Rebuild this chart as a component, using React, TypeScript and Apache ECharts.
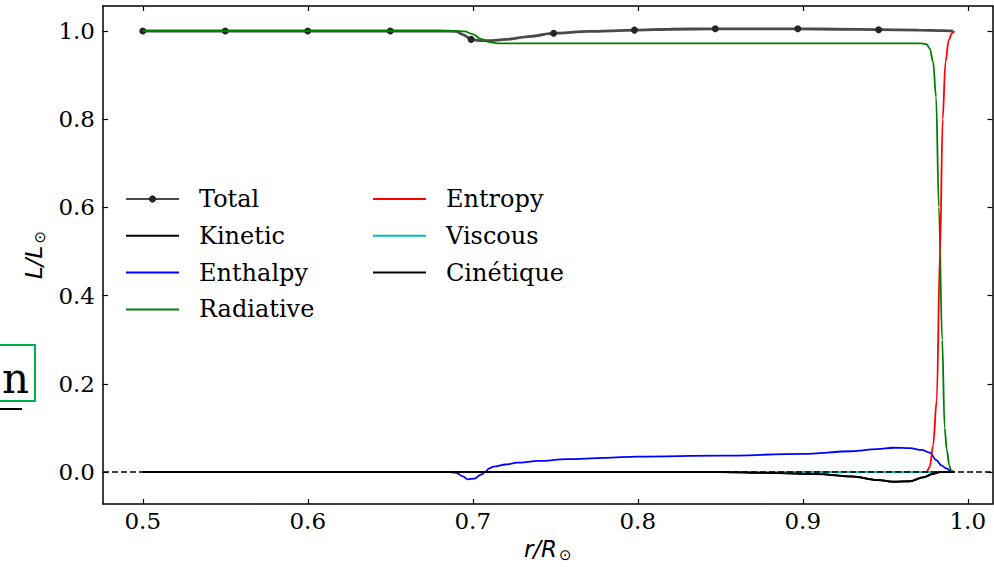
import React, { useEffect, useRef } from "react";
import * as echarts from "echarts";

// ---- data ----
const rTicks = [0.5, 0.6, 0.7, 0.8, 0.9, 1.0];
const lTicks = [0.0, 0.2, 0.4, 0.6, 0.8, 1.0];

const totalR = [0.5, 0.55, 0.6, 0.65, 0.68, 0.69, 0.694, 0.699, 0.705, 0.71, 0.72, 0.735, 0.749, 0.77, 0.798, 0.82, 0.847, 0.87, 0.897, 0.92, 0.946, 0.97, 0.985, 0.991];
const totalL = [1.0, 1.0, 1.0, 1.0, 1.0, 0.999, 0.992, 0.981, 0.978, 0.978, 0.981, 0.988, 0.995, 0.999, 1.002, 1.004, 1.005, 1.005, 1.005, 1.004, 1.003, 1.002, 1.001, 1.0];
const totalMarkerR = [0.5, 0.55, 0.6, 0.65, 0.699, 0.749, 0.798, 0.847, 0.897, 0.946];

const kineticR = [0.5, 0.85, 0.88, 0.908, 0.93, 0.945, 0.955, 0.965, 0.973, 0.979, 0.983, 0.991];
const kineticL = [0.0, 0.0, -0.002, -0.0045, -0.01, -0.018, -0.022, -0.021, -0.012, -0.004, 0.0, 0.0];

const enthalpyR = [0.5, 0.685, 0.69, 0.694, 0.697, 0.701, 0.705, 0.7075, 0.71, 0.7125, 0.72, 0.727, 0.74, 0.757, 0.78, 0.8, 0.85, 0.9, 0.93, 0.945, 0.955, 0.965, 0.972, 0.977, 0.981, 0.984, 0.987, 0.99, 0.992];
const enthalpyL = [0.0, 0.0, -0.002, -0.01, -0.0166, -0.015, -0.006, 0.0, 0.008, 0.012, 0.017, 0.021, 0.025, 0.029, 0.032, 0.035, 0.037, 0.041, 0.047, 0.052, 0.055, 0.054, 0.05, 0.044, 0.027, 0.015, 0.008, 0.002, 0.0];

const radiativeR = [0.5, 0.69, 0.695, 0.7, 0.705, 0.71, 0.715, 0.972, 0.975, 0.977, 0.979, 0.9808, 0.9825, 0.9845, 0.986, 0.9873, 0.9888, 0.99, 0.992];
const radiativeL = [1.0, 1.0, 0.999, 0.993, 0.982, 0.975, 0.972, 0.972, 0.97, 0.96, 0.93, 0.85, 0.6, 0.3, 0.1, 0.05, 0.015, 0.002, 0.0];

const entropyR = [0.5, 0.975, 0.977, 0.979, 0.9812, 0.9832, 0.9848, 0.9865, 0.9885, 0.9905, 0.992];
const entropyL = [0.0, 0.0, 0.012, 0.06, 0.163, 0.5, 0.8, 0.93, 0.98, 0.995, 1.0];

const viscousR = [0.5, 0.991];
const viscousL = [0.0, 0.0];

const cinetiqueR = [0.5, 0.85, 0.88, 0.908, 0.93, 0.945, 0.955, 0.965, 0.973, 0.979, 0.983, 0.991];
const cinetiqueL = [0.0, 0.0, -0.002, -0.0045, -0.01, -0.018, -0.022, -0.021, -0.012, -0.004, 0.0, 0.0];

const legendLeft = ["Total", "Kinetic", "Enthalpy", "Radiative"];
const legendRight = ["Entropy", "Viscous", "Cinétique"];

const X_MIN = 0.4759;
const X_MAX = 1.015;
const Y_MIN = -0.0726;
const Y_MAX = 1.0567;

const pairs = (xs: number[], ys: number[]) => xs.map((x, i) => [x, ys[i]]);

export default function App() {
  const ref = useRef<HTMLDivElement>(null);
  useEffect(() => {
    if (!ref.current) return;
    const chart = echarts.init(ref.current, undefined, { renderer: "svg" });
    const serif = "DejaVu Serif";
    const tickFont = { fontFamily: serif, fontSize: 23, color: "#000" };
    const lineSeries = (name: string, xs: number[], ys: number[], color: string, width = 1.8) => ({
      name,
      type: "line",
      data: pairs(xs, ys),
      symbol: "none",
      lineStyle: { color, width },
      itemStyle: { color },
      smooth: 0.35,
      smoothMonotone: "x",
      z: 3,
    });
    const totalData = totalR.map((x, i) => ({
      value: [x, totalL[i]],
      symbol: totalMarkerR.includes(x) ? "circle" : "none",
    }));
    const hiddenDot = { color: "transparent", borderColor: "transparent", borderWidth: 0 };
    const legendItems = (names: string[]) =>
      names.map((n) => (n === "Total" ? { name: n } : { name: n, itemStyle: hiddenDot }));
    const commonX = {
      type: "value",
      min: X_MIN,
      max: X_MAX,
      splitLine: { show: false },
      axisLine: { show: true, onZero: false, lineStyle: { color: "#000", width: 1.5 } },
    };
    const commonY = {
      type: "value",
      min: Y_MIN,
      max: Y_MAX,
      splitLine: { show: false },
      axisLine: { show: true, onZero: false, lineStyle: { color: "#000", width: 1.5 } },
    };
    const nameRich = {
      a: { fontFamily: "DejaVu Sans", fontStyle: "italic", fontSize: 23, color: "#000" },
      b: { fontFamily: "DejaVu Sans", fontSize: 15, color: "#000", padding: [12, 0, 0, 2] },
    };
    const legendCommon = {
      orient: "vertical",
      top: 187,
      padding: 0,
      itemWidth: 53,
      itemHeight: 9,
      itemGap: 12.8,
      selectedMode: false,
      textStyle: { fontFamily: serif, fontSize: 24, color: "#000", padding: [0, 0, 0, 15] },
    };
    chart.setOption({
      animation: false,
      grid: { left: 103, right: 1.5, top: 6, bottom: 58, containLabel: false },
      xAxis: [
        {
          ...commonX,
          position: "bottom",
          name: "{a|r/R}{b|⊙}",
          nameLocation: "middle",
          nameGap: 31,
          nameTextStyle: { rich: nameRich },
          axisTick: { show: true, inside: true, length: 5, customValues: rTicks, lineStyle: { color: "#000", width: 1.2 } },
          axisLabel: { ...tickFont, margin: 5, customValues: rTicks, formatter: (v: number) => v.toFixed(1) },
        },
        {
          ...commonX,
          position: "top",
          axisTick: { show: true, inside: true, length: 5, customValues: rTicks, lineStyle: { color: "#000", width: 1.2 } },
          axisLabel: { show: false },
        },
      ],
      yAxis: [
        {
          ...commonY,
          position: "left",
          name: "{a|L/L}{b|⊙}",
          nameLocation: "middle",
          nameRotate: 90,
          nameGap: 50,
          nameTextStyle: { rich: nameRich },
          axisTick: { show: true, inside: true, length: 5, customValues: lTicks, lineStyle: { color: "#000", width: 1.2 } },
          axisLabel: { ...tickFont, margin: 8, customValues: lTicks, formatter: (v: number) => v.toFixed(1) },
        },
        {
          ...commonY,
          position: "right",
          axisTick: { show: true, inside: true, length: 5, customValues: lTicks, lineStyle: { color: "#000", width: 1.2 } },
          axisLabel: { show: false },
        },
      ],
      legend: [
        { ...legendCommon, left: 125, data: legendItems(legendLeft) },
        { ...legendCommon, left: 372, data: legendItems(legendRight) },
      ],
      series: [
        {
          name: "Total",
          type: "line",
          data: totalData,
          symbol: "circle",
          symbolSize: 7,
          smooth: 0.25,
          smoothMonotone: "x",
          lineStyle: { color: "#4a4a4a", width: 2.8 },
          itemStyle: { color: "#262626" },
          z: 2,
        },
        lineSeries("Kinetic", kineticR, kineticL, "#000000", 2),
        lineSeries("Enthalpy", enthalpyR, enthalpyL, "#0000ff", 1.8),
        lineSeries("Radiative", radiativeR, radiativeL, "#008000", 1.8),
        lineSeries("Entropy", entropyR, entropyL, "#ff0000", 1.8),
        lineSeries("Viscous", viscousR, viscousL, "#00bfbf", 1.8),
        lineSeries("Cinétique", cinetiqueR, cinetiqueL, "#000000", 1.8),
        {
          name: "zero",
          type: "line",
          data: [[X_MIN, 0], [X_MAX, 0]],
          symbol: "none",
          lineStyle: { color: "#000", width: 1.5, type: [6, 3] },
          z: 5,
        },
      ],
      graphic: [
        {
          type: "rect",
          shape: { x: -40, y: 345, width: 75, height: 56 },
          style: { fill: "none", stroke: "#00b050", lineWidth: 2 },
        },
        {
          type: "text",
          x: 29,
          y: 378,
          style: { text: "n", font: "42px 'DejaVu Serif'", fill: "#000", align: "right", verticalAlign: "middle" },
        },
        {
          type: "line",
          shape: { x1: 0, y1: 409, x2: 22, y2: 409 },
          style: { stroke: "#000", lineWidth: 2 },
        },
      ],
    });
    return () => chart.dispose();
  }, []);
  return <div ref={ref} style={{ position: "absolute", left: 0, top: 0, width: 994, height: 567 }} />;
}
